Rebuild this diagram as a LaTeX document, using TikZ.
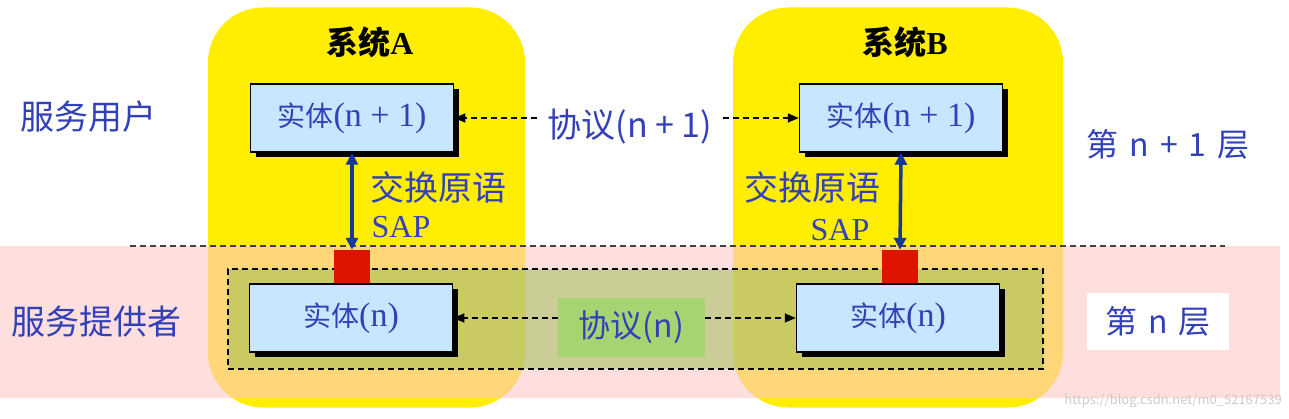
\documentclass[tikz,border=0pt]{standalone}
\usepackage{fontspec}
\setmainfont{Liberation Serif}
\newfontfamily\cjk{Noto Sans CJK SC}
\usepackage{xcolor}
\definecolor{sysyellow}{RGB}{255,238,0}
\definecolor{layerpink}{RGB}{255,200,200}
\definecolor{provgreen}{RGB}{150,190,80}
\definecolor{protogreen}{RGB}{165,212,112}
\definecolor{entblue}{RGB}{200,230,255}
\definecolor{txtblue}{RGB}{50,65,185}
\definecolor{arrblue}{RGB}{25,55,150}
\definecolor{sapred}{RGB}{222,20,0}
\usetikzlibrary{arrows.meta,positioning,shadows}
\newcommand\enttext[1]{{\cjk\fontsize{28}{30}\selectfont 实体}#1}

\begin{document}
\begin{tikzpicture}[x=1pt,y=-1pt,
  sys/.style={fill=sysyellow,rounded corners=55pt,minimum height=400pt,inner sep=0pt},
  ent/.style={draw,line width=1.5pt,fill=entblue,minimum width=203pt,minimum height=68pt,
    text=txtblue,font=\fontsize{34}{36}\selectfont,
    drop shadow={shadow xshift=5pt,shadow yshift=-5pt,fill=black,opacity=1}},
  sap/.style={fill=sapred,minimum width=36pt,minimum height=33pt,inner sep=0pt},
  lbl/.style={text=txtblue,font=\cjk\fontsize{32}{34}\selectfont,inner sep=0pt},
  proto/.style={dashed,dash pattern=on 6pt off 4pt,line width=1.5pt,-{Triangle[length=11pt,width=9pt]}},
  prim/.style={arrblue,line width=3.5pt,{Triangle[length=12pt,width=12pt]}-{Triangle[length=12pt,width=12pt]}}]
  \useasboundingbox[fill=white] (0,0) rectangle (1289,419);
  % Systems
  \node[sys,minimum width=317pt] (sysA) at (366.5,207.5) {};
  \node[sys,minimum width=330pt] (sysB) at (898,207.5) {};
  % Layer n band
  \fill[layerpink,fill opacity=0.6] (0,246) rectangle (1280,398);
  \draw[dash pattern=on 6pt off 4pt,line width=1.5pt,black!75] (130,246) -- (1225,246);
  \node[draw,dash pattern=on 6pt off 4pt,line width=1.5pt,fill=provgreen,fill opacity=0.5,
    draw opacity=1,minimum width=815pt,minimum height=100pt] (prov) at (635.5,319) {};
  % Titles
  \node[font=\fontsize{32}{34}\selectfont] (tA) at (370,42) {{\cjk\bfseries 系统}\textbf{A}};
  \node[font=\fontsize{32}{34}\selectfont] (tB) at (905,42) {{\cjk\bfseries 系统}\textbf{B}};
  % Entities
  \node[ent] (eA1) at (352,118) {\enttext{(n + 1)}};
  \node[ent] (eB1) at (901,118) {\enttext{(n + 1)}};
  \node[ent] (eA0) at (351,318) {\enttext{(n)}};
  \node[ent] (eB0) at (898,318) {\enttext{(n)}};
  % SAPs
  \node[sap] (sapA) at (352,266.5) {};
  \node[sap] (sapB) at (900,266.5) {};
  \draw[prim] (eA1.south) -- (sapA.north);
  \draw[prim] (eB1.south) -- (sapB.north);
  \node[lbl,font=\cjk\fontsize{34}{36}\selectfont] (xA) at (438,187) {交换原语};
  \node[lbl,font=\cjk\fontsize{34}{36}\selectfont] (xB) at (812,187) {交换原语};
  \node[text=txtblue,font=\fontsize{32}{34}\selectfont,inner sep=0pt] (sA) at (401,227) {SAP};
  \node[text=txtblue,font=\fontsize{32}{34}\selectfont,inner sep=0pt] (sB) at (840,230) {SAP};
  % Protocols
  \node[lbl,inner sep=10pt,font=\cjk\fontsize{34}{36}\selectfont] (pA1) at (630,127) {协议(n + 1)};
  \draw[proto] (eA1.east -| pA1.west) -- (eA1.east);
  \draw[proto] (eB1.west -| pA1.east) -- (eB1.west);
  \node[lbl,fill=protogreen,minimum width=147pt,minimum height=59pt] (pA0) at (631.5,327.5) {协议(n)};
  \draw[proto] (eA0.east -| pA0.west) -- (eA0.east);
  \draw[proto] (eB0.west -| pA0.east) -- (eB0.west);
  % Layer names
  \node[lbl,font=\cjk\fontsize{34}{36}\selectfont] (user) at (88,117) {服务用户};
  \node[lbl,font=\cjk\fontsize{34}{36}\selectfont] (provider) at (96.5,322) {服务提供者};
  \node[lbl] (ln1) at (1168,144) {第\hspace{.35em}n\hspace{.35em}+\hspace{.35em}1\hspace{.35em}层};
  \node[lbl,fill=white,minimum width=142pt,minimum height=57pt] (ln0) at (1158,321.5) {第\hspace{.35em}n\hspace{.35em}层};
  \node[text=gray!40,font=\cjk\fontsize{13}{14}\selectfont,anchor=east,inner sep=0pt] (wm) at (1282,401) {https://blog.csdn.net/m0\_52167539};
\end{tikzpicture}
\end{document}
